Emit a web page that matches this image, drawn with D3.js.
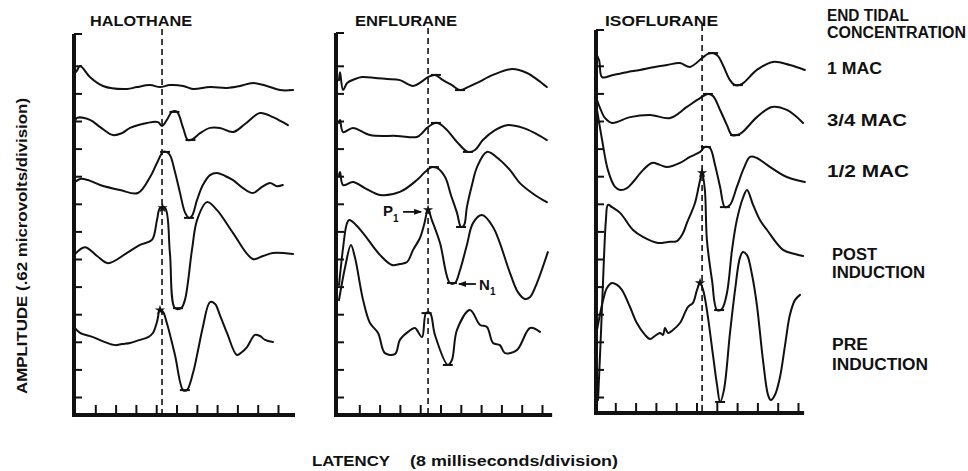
<!DOCTYPE html>
<html><head><meta charset="utf-8">
<script src="https://cdn.jsdelivr.net/npm/d3@7"></script>
<style>
body{margin:0;background:#fff}
svg{display:block}
text{font-family:"Liberation Sans",Arial,sans-serif;font-weight:bold;fill:#111}
</style>
</head><body>
<svg id="c" width="968" height="471"></svg>
<script>
// ---------- DATA (latency in ms, amplitude in divisions of 0.62 microvolts) ----------
const panels = ["HALOTHANE", "ENFLURANE", "ISOFLURANE"];
const conditions = [["1 MAC"], ["3/4 MAC"], ["1/2 MAC"], ["POST", "INDUCTION"], ["PRE", "INDUCTION"]];
const legendTitle = ["END TIDAL", "CONCENTRATION"];
const latencyTicks = [8, 16, 24, 32, 40, 48, 56, 64, 72, 80];
const amplitudeTicks = [0,1,2,3,4,5,6,7,8,9,10,11,12];
const p1Latency = [34.3, 35.1, 42.2];

const halo_1mac = [[0,11.92],[0.4,11.77],[2.0,11.99],[5.9,11.59],[11.0,11.27],[20.5,11.16],[24.4,11.23],[29.6,11.30],[33.5,11.23],[37.4,11.30],[42.6,11.27],[46.5,11.16],[53.2,11.23],[59.9,11.20],[65.0,11.27],[70.1,11.38],[75.6,11.27],[80.8,11.12],[85.9,11.12]];
const halo_34mac = [[0,9.96],[0.8,10.11],[5.9,10.04],[9.9,9.78],[15.0,9.49],[18.5,9.56],[21.7,9.75],[28.4,9.93],[32.7,9.96],[34.3,9.82],[36.2,10.04],[38.2,10.33],[40.2,10.33],[42.6,9.75],[44.5,9.31],[46.5,9.35],[49.3,9.56],[53.2,9.75],[57.1,9.75],[62.3,9.60],[67.0,9.89],[72.9,10.29],[78.0,10.14],[83.9,9.85]];
const halo_12mac = [[0,7.79],[2.0,7.90],[5.1,7.86],[9.9,7.68],[17.7,7.50],[24.8,7.39],[29.6,7.97],[32.3,8.48],[34.7,8.88],[35.9,8.88],[37.4,8.77],[39.4,8.15],[41.4,7.39],[43.3,6.70],[44.9,6.49],[46.1,6.56],[48.1,7.14],[50.4,7.68],[53.2,8.04],[55.9,8.12],[59.1,8.01],[62.3,7.86],[66.2,7.57],[70.1,7.39],[73.7,7.61],[76.8,7.75],[79.6,7.64],[81.9,7.68]];
const halo_post = [[0,5.18],[3.9,5.43],[8.7,5.11],[13.0,4.85],[20.5,5.22],[25.6,5.51],[30.3,5.69],[32.3,6.41],[33.5,6.85],[35.5,6.85],[37.4,5.22],[39.4,3.22],[41.8,3.22],[43.3,3.51],[46.1,5.33],[48.1,6.41],[52.0,7.06],[55.9,6.78],[62.3,5.94],[70.1,5.00],[74.1,5.11],[78.0,5.22],[85.9,5.18]];
const halo_pre = [[0,2.50],[2.0,2.32],[7.1,2.17],[11.8,1.99],[15.8,1.88],[18.5,1.92],[21.7,1.96],[25.6,2.07],[28.8,2.17],[30.7,2.32],[32.3,2.72],[33.5,3.15],[34.7,3.08],[36.2,2.68],[39.4,1.52],[42.6,0.25],[44.1,0.25],[46.5,0.87],[48.5,1.70],[50.4,2.54],[53.2,3.44],[55.2,3.37],[57.1,2.97],[59.9,2.32],[63.8,1.52],[65.8,1.63],[67.8,1.81],[70.9,2.25],[72.9,2.21],[74.9,2.07],[78.0,1.99]];

const enf_1mac = [[0,11.48],[0.4,11.77],[1.6,11.12],[3.2,11.38],[6.3,11.52],[9.1,11.59],[14.2,11.56],[18.9,11.52],[24.0,11.48],[29.2,11.27],[32.3,11.41],[35.1,11.59],[37.8,11.67],[41.0,11.48],[44.5,11.30],[47.7,11.12],[50.8,11.23],[54.4,11.38],[60.7,11.67],[68.2,11.88],[74.1,11.74],[78.4,11.48],[81.9,11.23]];
const enf_34mac = [[0,9.93],[0.4,10.04],[1.6,9.60],[5.5,9.75],[12.2,9.49],[22.9,9.46],[30.7,9.42],[32.7,9.56],[34.7,9.75],[37.8,9.93],[39.8,9.89],[42.6,9.67],[46.5,9.24],[50.8,8.88],[53.6,8.95],[56.7,9.31],[61.5,9.67],[66.2,9.85],[72.5,9.75],[77.2,9.56],[81.9,9.31]];
const enf_12mac = [[0,8.04],[0.4,8.15],[1.6,7.68],[5.5,7.79],[10.2,7.57],[16.2,7.32],[24.0,7.43],[30.7,7.86],[33.9,8.15],[36.6,8.33],[38.6,8.30],[41.8,7.97],[44.1,7.32],[46.5,6.67],[48.1,6.16],[49.3,6.23],[50.4,6.88],[52.4,7.68],[54.4,8.33],[58.3,8.88],[63.4,8.59],[67.4,8.22],[71.3,7.75],[77.2,7.32],[81.9,7.06]];
const enf_post = [[0,4.06],[1.6,5.40],[3.0,6.25],[4.0,6.41],[6.3,6.27],[9.5,5.94],[16.2,5.14],[20.9,4.78],[24.0,4.82],[26.8,4.89],[29.2,5.33],[31.9,5.76],[33.5,6.23],[35.1,6.78],[36.6,6.41],[39.8,5.58],[43.7,4.13],[45.7,4.13],[47.7,4.60],[50.4,5.51],[52.8,6.30],[56.3,6.59],[60.7,6.16],[67.4,4.49],[70.5,3.80],[73.3,3.55],[75.3,3.62],[78.0,4.13],[82.3,5.25]];
const enf_pre = [[0,3.51],[2.4,4.70],[4.7,5.51],[6.3,5.05],[9.5,3.51],[12.2,2.68],[15.4,2.32],[18.1,1.59],[22.1,1.56],[24.0,2.07],[27.2,2.36],[29.9,2.50],[32.7,2.17],[34.3,3.04],[35.9,3.04],[37.8,2.25],[42.9,1.16],[44.5,1.34],[46.5,2.43],[51.6,3.15],[55.6,2.61],[58.3,2.54],[60.7,1.96],[63.4,1.88],[65.4,1.59],[70.1,1.70],[75.3,2.50],[79.2,2.36]];

const iso_1mac = [[0,12.50],[1.6,12.21],[2.8,11.59],[7.1,11.67],[12.6,11.77],[17.7,11.85],[23.6,11.96],[28.4,12.03],[33.5,12.10],[37.4,11.96],[42.2,12.28],[44.5,12.43],[46.5,12.46],[48.5,12.35],[50.4,12.03],[53.2,11.48],[55.2,11.30],[57.9,11.34],[63.8,11.85],[70.1,12.14],[76.8,12.03],[82.7,11.85]];
const iso_34mac = [[0.8,10.76],[2.0,10.47],[3.9,10.11],[6.7,9.93],[13.8,10.14],[21.7,10.22],[29.6,10.11],[36.2,10.51],[41.4,10.83],[44.5,10.98],[46.5,10.91],[49.3,10.40],[52.0,9.85],[54.0,9.49],[57.1,9.53],[63.8,10.14],[69.7,10.51],[75.6,10.40],[82.0,9.93]];
const iso_12mac = [[0.8,10.40],[2.8,9.31],[5.1,8.22],[7.9,7.61],[9.9,7.50],[12.6,7.57],[15.0,7.79],[18.9,8.22],[22.5,8.48],[25.6,8.41],[28.4,8.33],[33.5,8.48],[37.4,8.70],[41.4,8.88],[43.3,9.06],[45.3,9.02],[47.3,8.41],[49.3,7.61],[51.2,6.88],[53.2,6.96],[55.9,7.61],[58.7,8.30],[61.1,8.70],[63.8,8.66],[67.8,8.41],[75.6,7.97],[82.7,7.79]];
const iso_post = [[1.2,-0.11],[2.4,2.43],[3.5,4.96],[4.3,6.41],[5.1,6.96],[6.7,6.88],[9.9,6.67],[15.0,6.05],[18.9,5.80],[24.8,5.58],[28.8,5.62],[32.3,5.65],[34.7,5.94],[36.2,6.30],[39.4,7.03],[41.0,7.68],[42.2,8.12],[43.3,7.50],[44.1,5.69],[46.1,4.24],[48.1,3.15],[50.0,3.19],[52.0,3.77],[54.0,5.33],[55.9,6.41],[58.3,7.21],[59.9,7.50],[62.3,6.96],[65.0,6.41],[67.8,6.05],[74.1,5.33],[78.8,5.18],[82.0,5.11]];
const iso_pre = [[0.8,2.43],[3.2,3.51],[4.7,3.95],[6.7,4.13],[8.7,4.06],[10.6,3.88],[13.8,3.26],[16.5,2.68],[19.7,2.25],[21.7,2.10],[23.6,2.21],[25.6,2.32],[26.8,2.25],[27.6,2.50],[28.8,2.32],[30.7,2.43],[33.5,2.68],[36.6,3.26],[38.6,3.41],[40.2,3.88],[41.4,4.13],[42.6,3.88],[44.1,3.15],[46.5,1.52],[48.1,0.43],[49.3,-0.18],[50.8,0.25],[53.2,2.32],[55.2,3.88],[57.1,5.04],[58.3,5.25],[59.9,5.14],[61.9,4.42],[63.8,3.33],[66.2,1.34],[68.2,0.07],[69.3,-0.11],[70.9,0.07],[72.9,0.72],[74.9,1.88],[76.8,2.97],[78.8,3.51],[80.8,3.70]];

// peak / trough marks: [latency ms, amplitude div, kind]
const halo_marks = [[39.2,10.33,"bar"],[45.5,9.31,"bar"],[35.5,8.88,"bar"],[44.9,6.49,"bar"],[34.5,6.85,"star"],[40.6,3.22,"bar"],[33.5,3.15,"star"],[43.3,0.25,"bar"]];
const enf_marks = [[38.2,11.67,"bar"],[47.7,11.12,"bar"],[38.2,9.93,"bar"],[50.8,8.88,"bar"],[37.4,8.33,"bar"],[48.1,6.16,"bar"],[35.1,6.78,"star"],[44.5,4.13,"bar"],[34.5,3.04,"bar"],[42.9,1.16,"bar"]];
const iso_marks = [[46.5,12.46,"bar"],[56.3,11.30,"bar"],[44.5,10.98,"bar"],[55.2,9.49,"bar"],[43.7,9.06,"bar"],[51.2,6.88,"bar"],[42.2,8.12,"star"],[48.9,3.15,"bar"],[41.4,4.13,"star"],[49.3,-0.18,"bar"]];
const p1Point = [35.1, 6.78];
const n1Point = [44.5, 4.13];

// ---------- DRAWING ----------
const traces = [
  [halo_1mac, halo_34mac, halo_12mac, halo_post, halo_pre],
  [enf_1mac, enf_34mac, enf_12mac, enf_post, enf_pre],
  [iso_1mac, iso_34mac, iso_12mac, iso_post, iso_pre]
];
const marks = [halo_marks, enf_marks, iso_marks];
const INK = "#111";
const PX_PER_DIV = 20.3;
const layout = [
  {x0:75,  axisX:74,  yTop:34, yBottom:415, tEnd:86.7, titleX:90,  titleW:102},
  {x0:339, axisX:336, yTop:33, yBottom:415, tEnd:84.0, titleX:355, titleW:102},
  {x0:595, axisX:596, yTop:30, yBottom:413, tEnd:82.4, titleX:605, titleW:113}
];

const svg = d3.select("#c");
const defs = svg.append("defs");
defs.append("marker").attr("id","arr").attr("viewBox","0 0 8 6").attr("refX",7).attr("refY",3)
  .attr("markerWidth",8).attr("markerHeight",6).attr("markerUnits","userSpaceOnUse").attr("orient","auto")
  .append("path").attr("d","M0,0L8,3L0,6Z").attr("fill",INK);

const y = d3.scaleLinear().domain([0, 12]).range([397, 65.8]);

panels.forEach((name, i) => {
  const L = layout[i];
  const x = d3.scaleLinear().domain([0, 8]).range([L.x0, L.x0 + PX_PER_DIV]);
  const g = svg.append("g");

  g.append("text").attr("x", L.titleX).attr("y", 26).attr("font-size", 15)
    .attr("textLength", L.titleW).attr("lengthAdjust", "spacingAndGlyphs").text(name);

  // left (amplitude) axis ticks
  const ay = g.append("g").attr("transform", `translate(${L.axisX},0)`)
    .call(d3.axisRight(y).tickValues(amplitudeTicks).tickSize(8).tickFormat(""));
  ay.select(".domain").remove();
  ay.selectAll(".tick line").attr("stroke", INK).attr("stroke-width", 2);
  g.append("line").attr("x1", L.axisX).attr("x2", L.axisX).attr("y1", L.yTop).attr("y2", L.yBottom + 2)
    .attr("stroke", INK).attr("stroke-width", 4);
  g.append("line").attr("x1", L.axisX).attr("x2", L.axisX + 8).attr("y1", L.yTop).attr("y2", L.yTop)
    .attr("stroke", INK).attr("stroke-width", 2);

  // bottom (latency) axis ticks
  const ax = g.append("g").attr("transform", `translate(0,${L.yBottom})`)
    .call(d3.axisTop(x).tickValues(latencyTicks).tickSize(10).tickFormat(""));
  ax.select(".domain").remove();
  ax.selectAll(".tick line").attr("stroke", INK).attr("stroke-width", 2);
  g.append("line").attr("x1", L.axisX - 2).attr("x2", x(L.tEnd)).attr("y1", L.yBottom).attr("y2", L.yBottom)
    .attr("stroke", INK).attr("stroke-width", 4);

  // dashed P1 latency line
  g.append("line").attr("x1", x(p1Latency[i])).attr("x2", x(p1Latency[i]))
    .attr("y1", L.yTop - 5).attr("y2", L.yBottom - 2)
    .attr("stroke", INK).attr("stroke-width", 1.6).attr("stroke-dasharray", "6,4");

  // waveforms
  const line = d3.line().x(d => x(d[0])).y(d => y(d[1])).curve(d3.curveCatmullRom.alpha(0.5));
  g.selectAll("path.trace").data(traces[i]).join("path").attr("class", "trace")
    .attr("d", line).attr("fill", "none").attr("stroke", INK).attr("stroke-width", 2)
    .attr("stroke-linejoin", "round").attr("stroke-linecap", "round");

  // peak / trough markers
  marks[i].forEach(m => {
    const px = x(m[0]), py = y(m[1]);
    if (m[2] === "bar") {
      g.append("line").attr("x1", px - 5).attr("x2", px + 5).attr("y1", py).attr("y2", py)
        .attr("stroke", INK).attr("stroke-width", 2);
    } else {
      g.append("path").attr("d", d3.symbol(d3.symbolStar).size(32)())
        .attr("transform", `translate(${px},${py})`).attr("fill", INK);
    }
  });

  if (i === 1) {
    const px = x(p1Point[0]), py = y(p1Point[1]);
    g.append("text").attr("x", px - 45).attr("y", py + 6).attr("font-size", 15).text("P");
    g.append("text").attr("x", px - 35).attr("y", py + 12).attr("font-size", 10).text("1");
    g.append("line").attr("x1", px - 25).attr("x2", px - 7).attr("y1", py + 2).attr("y2", py + 2)
      .attr("stroke", INK).attr("stroke-width", 1.8).attr("marker-end", "url(#arr)");
    const nx = x(n1Point[0]), ny = y(n1Point[1]);
    g.append("line").attr("x1", nx + 24).attr("x2", nx + 7).attr("y1", ny + 1).attr("y2", ny + 1)
      .attr("stroke", INK).attr("stroke-width", 1.8).attr("marker-end", "url(#arr)");
    g.append("text").attr("x", nx + 27).attr("y", ny + 7).attr("font-size", 15).text("N");
    g.append("text").attr("x", nx + 38).attr("y", ny + 12).attr("font-size", 10).text("1");
  }
});

// legend (end tidal concentration)
const legendRows = [
  {t: legendTitle[0], x: 827, y: 21, w: 82},
  {t: legendTitle[1], x: 827, y: 38, w: 139},
  {t: conditions[0][0], x: 827, y: 74, w: 55},
  {t: conditions[1][0], x: 827, y: 126, w: 80},
  {t: conditions[2][0], x: 827, y: 177, w: 82},
  {t: conditions[3][0], x: 832, y: 260, w: 45},
  {t: conditions[3][1], x: 832, y: 278, w: 93},
  {t: conditions[4][0], x: 832, y: 350, w: 36},
  {t: conditions[4][1], x: 832, y: 370, w: 96}
];
svg.append("g").selectAll("text").data(legendRows).join("text")
  .attr("x", d => d.x).attr("y", d => d.y).attr("font-size", 16)
  .attr("textLength", d => d.w).attr("lengthAdjust", "spacingAndGlyphs").text(d => d.t);

// axis titles
svg.append("text").attr("transform", "translate(27,246) rotate(-90)").attr("text-anchor", "middle")
  .attr("font-size", 15).attr("textLength", 296).attr("lengthAdjust", "spacingAndGlyphs")
  .text("AMPLITUDE (.62 microvolts/division)");
svg.append("text").attr("x", 312).attr("y", 466).attr("font-size", 15)
  .attr("textLength", 78).attr("lengthAdjust", "spacingAndGlyphs").text("LATENCY");
svg.append("text").attr("x", 410).attr("y", 466).attr("font-size", 15)
  .attr("textLength", 208).attr("lengthAdjust", "spacingAndGlyphs").text("(8 milliseconds/division)");
</script>
</body></html>
